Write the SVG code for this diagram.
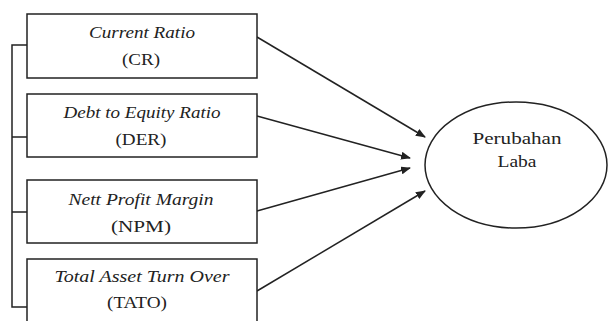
<svg xmlns="http://www.w3.org/2000/svg" width="608" height="321" viewBox="0 0 608 321">
<defs>
<style>
.box{fill:#fff;stroke:#222;stroke-width:1.5}
.ln{fill:none;stroke:#222;stroke-width:1.5}
.t{font-family:"Liberation Serif","DejaVu Serif",serif;font-size:17px;fill:#222;text-anchor:middle}
.i{font-style:italic}
</style>
<marker id="ah" markerWidth="10" markerHeight="8" refX="9" refY="4" orient="auto" markerUnits="userSpaceOnUse">
<path d="M0,0 L10,4 L0,8 Z" fill="#222"/>
</marker>
</defs>
<rect width="608" height="321" fill="#fff"/>
<g id="connectors">
<path class="ln" d="M27,45 H12 V307 H27 M12,137 H27 M12,212 H27"/>
<line class="ln" x1="257" y1="37" x2="425" y2="137" marker-end="url(#ah)"/>
<line class="ln" x1="257" y1="116" x2="410" y2="158" marker-end="url(#ah)"/>
<line class="ln" x1="257" y1="211" x2="410" y2="168" marker-end="url(#ah)"/>
<line class="ln" x1="257" y1="291" x2="425" y2="191" marker-end="url(#ah)"/>
</g>
<g id="cr">
<rect class="box" x="27" y="14" width="230" height="64"/>
<text class="t i" x="142" y="38" textLength="106" lengthAdjust="spacingAndGlyphs">Current Ratio</text>
<text class="t" x="141" y="65" textLength="38" lengthAdjust="spacingAndGlyphs">(CR)</text>
</g>
<g id="der">
<rect class="box" x="27" y="94" width="230" height="63"/>
<text class="t i" x="142" y="118" textLength="157" lengthAdjust="spacingAndGlyphs">Debt to Equity Ratio</text>
<text class="t" x="141" y="145" textLength="51" lengthAdjust="spacingAndGlyphs">(DER)</text>
</g>
<g id="npm">
<rect class="box" x="27" y="180" width="230" height="63"/>
<text class="t i" x="141" y="205" textLength="145" lengthAdjust="spacingAndGlyphs">Nett Profit Margin</text>
<text class="t" x="141" y="232" textLength="60" lengthAdjust="spacingAndGlyphs">(NPM)</text>
</g>
<g id="tato">
<rect class="box" x="27" y="259" width="230" height="70"/>
<text class="t i" x="142" y="282" textLength="175" lengthAdjust="spacingAndGlyphs">Total Asset Turn Over</text>
<text class="t" x="137" y="308" textLength="60" lengthAdjust="spacingAndGlyphs">(TATO)</text>
</g>
<g id="laba">
<ellipse class="box" cx="516" cy="165" rx="91" ry="63"/>
<text class="t" x="517" y="144" textLength="89" lengthAdjust="spacingAndGlyphs">Perubahan</text>
<text class="t" x="517" y="167" textLength="39" lengthAdjust="spacingAndGlyphs">Laba</text>
</g>
</svg>
